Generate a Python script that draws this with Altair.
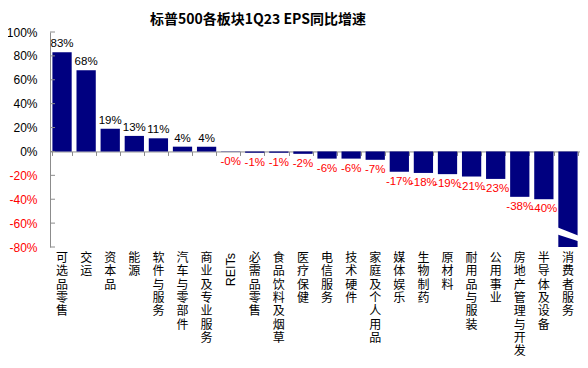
import altair as alt
import pandas as pd

categories = ["可选品零售", "交运", "资本品", "能源", "软件与服务", "汽车与零部件",
              "商业及专业服务", "REITs", "必需品零售", "食品饮料及烟草", "医疗保健",
              "电信服务", "技术硬件", "家庭及个人用品", "媒体娱乐", "生物制药", "原材料",
              "耐用品与服装", "公用事业", "房地产管理与开发", "半导体及设备", "消费者服务"]
values = [83, 68, 19, 13, 11, 4, 4, -0.3, -1, -1, -2, -6, -6, -7, -17, -18, -19,
          -21, -23, -38, -40, -115]
value_labels = ["83%", "68%", "19%", "13%", "11%", "4%", "4%", "-0%", "-1%", "-1%",
                "-2%", "-6%", "-6%", "-7%", "-17%", "-18%", "-19%", "-21%", "-23%",
                "-38%", "-40%", ""]
y_ticks = [-80, -60, -40, -20, 0, 20, 40, 60, 80, 100]

df = pd.DataFrame({
    "cat": categories,
    "val": values,
    "lbl": value_labels,
    "vlab": ["\n".join(c) if c != "REITs" else c for c in categories],
})
ticks_df = pd.DataFrame({"t": y_ticks})

NAVY = "#000080"
GRAY = "#8c8c8c"
RED = "#ff0000"
CJK = "Noto Sans CJK SC"
LAT = "Liberation Sans"

xaxis = alt.Axis(title=None, labels=False, orient="bottom",
                 offset=-95.56, domainColor=GRAY, tickColor=GRAY,
                 tickSize=4, tickBand="extent")
xscale = alt.Scale(paddingInner=0.2, paddingOuter=0.1)
yscale = alt.Scale(domain=[-80, 100], nice=False, zero=False)
yaxis = alt.Axis(title=None, values=y_ticks, grid=False, ticks=False,
                 tickSize=0, labelPadding=13, labelOverlap=False,
                 labelExpr="datum.value + '%'",
                 labelFont=LAT, labelFontSize=12,
                 labelColor=alt.condition("datum.value < 0",
                                          alt.value(RED), alt.value("black")),
                 domainColor=GRAY)

def xs():
    return alt.X("cat:N", sort=categories, scale=xscale, axis=xaxis)

def ys(field):
    return alt.Y(field, scale=yscale, axis=yaxis)

base = alt.Chart(df)

bars = base.mark_bar(color=NAVY, clip=True).encode(x=xs(), y=ys("val:Q"))

pos_lbl = base.transform_filter("datum.val >= 0").mark_text(
    baseline="bottom", dy=-3, font=LAT, fontSize=11.5, color="black"
).encode(x=xs(), y=ys("val:Q"), text="lbl:N")

neg_lbl = base.transform_filter("datum.val < 0 && datum.val > -80").mark_text(
    baseline="top", dy=4, font=LAT, fontSize=11.5, color=RED
).encode(x=xs(), y=ys("val:Q"), text="lbl:N")

break_mark = base.transform_filter("datum.val <= -80").transform_calculate(
    brk="-69.7").mark_point(
    shape="M -1 -0.66 L 1 0.12 L 1 0.59 L -1 -0.05 Z", filled=True,
    fill="white", opacity=1, strokeWidth=0, size=576
).encode(x=xs(), y=ys("brk:Q"))

ytick_rules = alt.Chart(ticks_df).mark_rule(color=GRAY).encode(
    y=ys("t:Q"), x=alt.value(0), x2=alt.value(5))

xlab = base.transform_filter("datum.cat != 'REITs'").mark_text(
    baseline="top", align="center", lineBreak="\n", lineHeight=13.3,
    font=CJK, fontSize=12, color="black"
).encode(x=xs(), y=alt.value(221), text="vlab:N")

xlab_r = base.transform_filter("datum.cat == 'REITs'").mark_text(
    baseline="middle", align="right", angle=270,
    font=LAT, fontSize=12.5, color="black"
).encode(x=xs(), y=alt.value(221), text="vlab:N")

chart = alt.layer(bars, ytick_rules, pos_lbl, neg_lbl, break_mark, xlab, xlab_r).properties(
    width=530, height=215,
    title=alt.TitleParams("标普500各板块1Q23 EPS同比增速", font=CJK, fontSize=14,
                          fontWeight="bold", anchor="middle", dx=-57, offset=-0.5,
                          color="black"),
    autosize=alt.AutoSizeParams(type="none"),
    padding={"left": 42, "top": 24, "right": 0, "bottom": 121},
).configure_view(stroke=None).configure_axis(labelFlush=False)

chart.save("out.html", embed_options={"renderer": "svg", "actions": False})
